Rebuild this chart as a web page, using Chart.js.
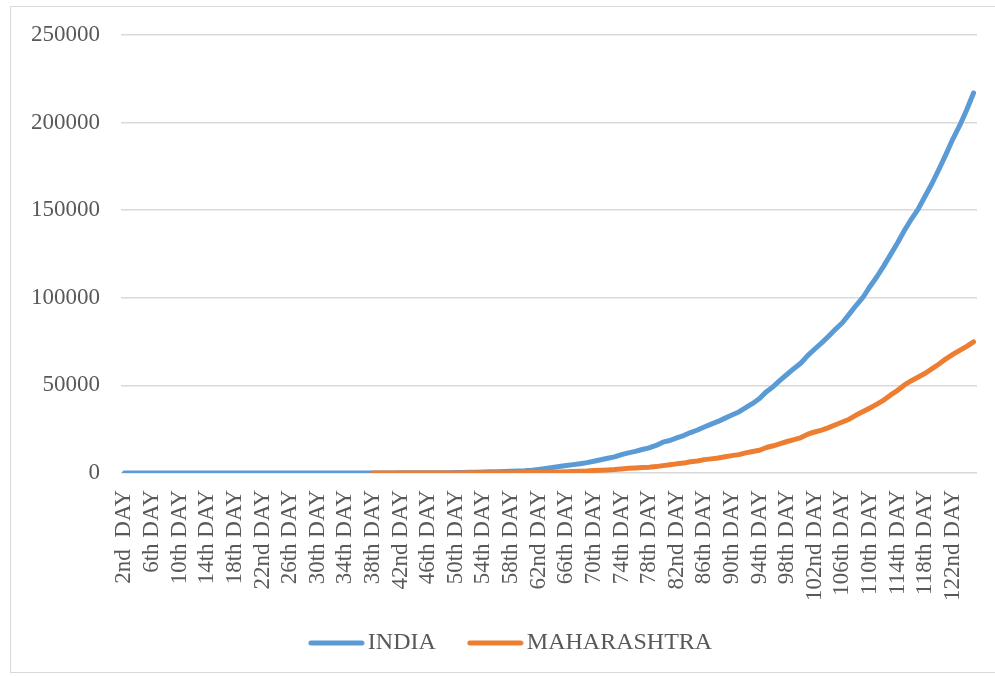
<!DOCTYPE html>
<html lang="en">
<head>
    <meta charset="UTF-8">
    <title>India vs Maharashtra cases</title>
    <script src="https://cdn.jsdelivr.net/npm/chart.js"></script>
    <style>
        body { margin: 0; background: #fff; }
        .chart-container {
            width: 995px;
            height: 676px;
            position: relative;
        }
    </style>
</head>
<body>
    <div class="chart-container">
        <canvas id="casesChart"></canvas>
    </div>

    <script>
        // days shown on the category axis
        const firstDay = 2;
        const lastDay = 125;

        // INDIA cumulative cases, day 2 onwards
        const indiaFeb = [1, 2, 3, 3, 3, 3, 3, 3, 3, 3, 3, 3, 3, 3, 3, 3, 3, 3, 3, 3, 3, 3, 3, 3, 3, 3, 3, 3, 3];
        const indiaMar = [3, 5, 6, 28, 30, 31, 34, 39, 48, 63, 71, 81, 91, 102, 112, 126, 146, 171, 198, 256,
            334, 403, 497, 571, 657, 730, 883, 1019, 1139, 1326, 1635];
        const indiaApr = [2059, 2545, 3105, 3684, 4293, 4778, 5311, 5916, 6725, 7598, 8446, 9205, 10453, 11487, 12322,
            13430, 14352, 15722, 17615, 18539, 20080, 21370, 23077, 24530, 26283, 27890, 29451, 31324, 33062, 34863];
        const indiaMay = [37257, 39699, 42505, 46437, 49400, 52987, 56351, 59695, 62808, 67161, 70768, 74292, 78055,
            81997, 85784, 90648, 95698, 100328, 106475, 112028, 118226, 124794, 131423, 138536, 144950, 150793,
            158086, 165386, 173491, 181827, 190609];
        const indiaJun = [198370, 207191, 216919];

        // MAHARASHTRA cumulative cases, starts on day 38
        const maharashtraStartDay = 38;
        const maharashtraMar = [0, 2, 5, 11, 14, 17, 26, 32, 39, 41, 45, 49, 52, 64, 74, 97, 107, 122, 130, 153, 186,
            203, 220, 302];
        const maharashtraApr = [335, 423, 490, 635, 748, 868, 1018, 1135, 1364, 1574, 1761, 1982, 2334, 2684, 2916,
            3202, 3323, 3648, 4200, 4666, 5218, 5652, 6427, 6817, 7628, 8068, 8590, 9318, 9915, 10498];
        const maharashtraMay = [11506, 12296, 12974, 14541, 15525, 16758, 17974, 19063, 20228, 22171, 23401, 24427,
            25922, 27524, 29100, 30706, 33053, 35058, 37136, 39297, 41642, 44582, 47190, 50231, 52667, 54758, 56948,
            59546, 62228, 65168, 67655];
        const maharashtraJun = [70013, 72300, 74860];

        function ordinal(n) {
            const t = n % 100;
            if (t >= 11 && t <= 13) return n + 'th';
            if (n % 10 === 1) return n + 'st';
            if (n % 10 === 2) return n + 'nd';
            if (n % 10 === 3) return n + 'rd';
            return n + 'th';
        }

        const dayLabels = [];
        for (let d = firstDay; d <= lastDay; d++) {
            dayLabels.push(d === firstDay ? ordinal(d) + '  DAY' : ordinal(d) + ' DAY');
        }

        const india = [].concat(indiaFeb, indiaMar, indiaApr, indiaMay, indiaJun);
        const maharashtra = new Array(maharashtraStartDay - firstDay).fill(null)
            .concat(maharashtraMar, maharashtraApr, maharashtraMay, maharashtraJun);

        const FONT = "'Liberation Serif', 'Times New Roman', serif";
        const TEXT = '#595959';

        // legend swatch: a short thick line that sits close to its text
        function legendLine(color) {
            const c = document.createElement('canvas');
            c.width = 57;
            c.height = 6;
            const g = c.getContext('2d');
            g.strokeStyle = color;
            g.lineWidth = 5;
            g.lineCap = 'round';
            g.beginPath();
            g.moveTo(3, 3);
            g.lineTo(54, 3);
            g.stroke();
            return c;
        }

        // light frame round the whole chart, like the spreadsheet chart area;
        // the legend sits a little right of centre and tucked up under the labels
        const frame = {
            id: 'frame',
            afterLayout(chart) {
                const lg = chart.legend;
                lg.left += 21;
                lg.right += 21;
                lg.top -= 14;
                lg.bottom -= 14;
            },
            beforeDraw(chart) {
                const ctx = chart.ctx;
                ctx.save();
                ctx.strokeStyle = '#d9d9d9';
                ctx.lineWidth = 1;
                ctx.strokeRect(10.5, 6.5, 1000, 666);
                ctx.restore();
            }
        };

        const ctx = document.getElementById('casesChart').getContext('2d');
        new Chart(ctx, {
            type: 'line',
            data: {
                labels: dayLabels,
                datasets: [{
                    label: 'INDIA',
                    data: india,
                    borderColor: '#5B9BD5',
                    backgroundColor: '#5B9BD5',
                    borderWidth: 5,
                    borderCapStyle: 'round',
                    borderJoinStyle: 'round',
                    pointRadius: 0,
                    pointStyle: legendLine('#5B9BD5'),
                    tension: 0,
                    order: 1
                }, {
                    label: 'MAHARASHTRA',
                    data: maharashtra,
                    borderColor: '#ED7D31',
                    backgroundColor: '#ED7D31',
                    borderWidth: 5,
                    borderCapStyle: 'round',
                    borderJoinStyle: 'round',
                    pointRadius: 0,
                    pointStyle: legendLine('#ED7D31'),
                    tension: 0,
                    order: 0
                }]
            },
            options: {
                responsive: true,
                maintainAspectRatio: false,
                animation: false,
                layout: {
                    padding: { left: 10, right: 18, top: 35, bottom: -3 }
                },
                plugins: {
                    tooltip: { enabled: false },
                    legend: {
                        position: 'bottom',
                        labels: {
                            font: { family: FONT, size: 24 },
                            color: TEXT,
                            usePointStyle: true,
                            pointStyleWidth: 39,
                            padding: 40,
                            sort: (a, b) => a.datasetIndex - b.datasetIndex
                        }
                    }
                },
                scales: {
                    x: {
                        offset: true,
                        grid: { display: false, drawTicks: false },
                        border: { display: false },
                        // rotated labels should not push the plot edges inwards
                        afterFit: scale => {
                            scale.paddingLeft = 0;
                            scale.paddingRight = 0;
                            scale.height = 132;
                        },
                        ticks: {
                            autoSkip: false,
                            minRotation: 90,
                            maxRotation: 90,
                            padding: 17,
                            font: { family: FONT, size: 23 },
                            color: TEXT,
                            callback: (v, i) => (i % 4 === 0 ? dayLabels[i] : '')
                        }
                    },
                    y: {
                        min: 0,
                        max: 250000,
                        grid: { color: '#d9d9d9', lineWidth: 1.5, drawTicks: false },
                        border: { display: false },
                        ticks: {
                            stepSize: 50000,
                            padding: 21,
                            font: { family: FONT, size: 23 },
                            color: TEXT,
                            callback: v => String(v)
                        }
                    }
                }
            },
            plugins: [frame]
        });
    </script>
</body>
</html>
